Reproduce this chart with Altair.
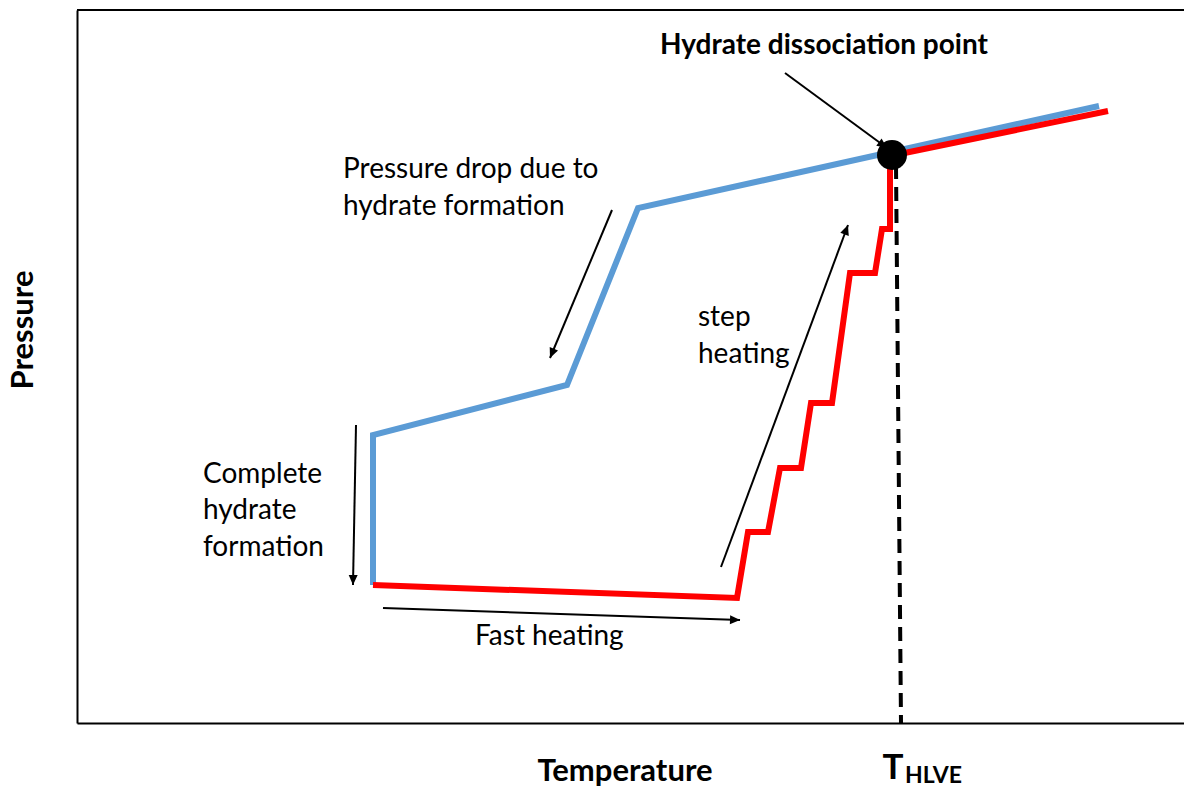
import math
import altair as alt
import pandas as pd

# plot area in its own units (1 unit = 1 px)
W, H = 1107, 713

# blue path (cooling / hydrate formation)
blue_t = [296, 296, 490, 561, 1022]
blue_p = [138, 288, 338, 515, 617]

# red path (fast heating then step heating)
red_t = [296, 660, 671, 691, 703, 724, 734, 755, 773, 798, 805, 813, 813, 1031]
red_p = [138, 125, 191, 191, 255, 255, 320, 320, 450, 450, 494, 494, 567, 612]

# dissociation point
diss_t = [815]
diss_p = [568]

# dashed T_HLVE line
thlve_t = [819, 824]
thlve_p = [558, 0]

# annotation arrows (tail -> head)
arrow_t0 = [708, 535, 644, 279, 306]
arrow_p0 = [650, 513, 156, 298, 115]
arrow_t1 = [810, 473, 771, 276, 663]
arrow_p1 = [575, 365, 498, 138, 103]

# annotation texts
note_text = ["Pressure drop due to", "hydrate formation", "step", "heating",
             "Complete", "hydrate", "formation", "Fast heating"]
note_t = [266, 266, 621, 621, 126, 126, 126, 398]
note_p = [553, 516, 405, 368, 248, 212, 175, 86]

title_text = ["Hydrate dissociation point"]
title_t = [583]
title_p = [677]

FONT = "Lato"

xs = alt.Scale(domain=[0, W], nice=False, zero=False)
ys = alt.Scale(domain=[0, H], nice=False, zero=False)


def path_df(ts, ps):
    return pd.DataFrame({"t": ts, "p": ps, "i": list(range(len(ts)))})


def path_layer(df, color, width, dash=None):
    kw = dict(color=color, strokeWidth=width, strokeCap="butt", strokeJoin="miter")
    if dash:
        kw["strokeDash"] = dash
    return alt.Chart(df).mark_line(**kw).encode(
        x=alt.X("t:Q", scale=xs, axis=alt.Axis(title=None, labels=False, ticks=False, grid=False,
                                               domainColor="#000", domainWidth=2)),
        y=alt.Y("p:Q", scale=ys, axis=alt.Axis(title=None, labels=False, ticks=False, grid=False,
                                               domainColor="#000", domainWidth=2)),
        order="i:Q",
    )


blue = path_layer(path_df(blue_t, blue_p), "#5B9BD5", 6)
red = path_layer(path_df(red_t, red_p), "#FF0000", 6)
dashed = path_layer(path_df(thlve_t, thlve_p), "#000000", 4, dash=[14, 8])

dot = alt.Chart(pd.DataFrame({"t": diss_t, "p": diss_p})).mark_point(
    shape="circle", filled=True, color="#000", size=900, opacity=1
).encode(x=alt.X("t:Q", scale=xs), y=alt.Y("p:Q", scale=ys))

arr = pd.DataFrame({"t0": arrow_t0, "p0": arrow_p0, "t1": arrow_t1, "p1": arrow_p1})
arr["ang"] = [
    (math.degrees(math.atan2(t1 - t0, p1 - p0)) + 360) % 360
    for t0, p0, t1, p1 in zip(arrow_t0, arrow_p0, arrow_t1, arrow_p1)
]

shafts = alt.Chart(arr).mark_rule(color="#000", strokeWidth=2).encode(
    x=alt.X("t0:Q", scale=xs), y=alt.Y("p0:Q", scale=ys),
    x2="t1:Q", y2="p1:Q",
)
heads = alt.Chart(arr).mark_point(
    shape="M0,0L-0.9,2L0.9,2Z", filled=True, color="#000", size=100, opacity=1
).encode(
    x=alt.X("t1:Q", scale=xs), y=alt.Y("p1:Q", scale=ys),
    angle=alt.Angle("ang:Q", scale=None),
)

top_rule = alt.Chart(pd.DataFrame({"a": [0]})).mark_rule(color="#000", strokeWidth=2).encode(
    x=alt.datum(0, scale=xs), x2=alt.datum(W), y=alt.datum(H, scale=ys)
)

notes = alt.Chart(pd.DataFrame({"txt": note_text, "t": note_t, "p": note_p})).mark_text(
    align="left", baseline="middle", font=FONT, fontSize=28, color="#000"
).encode(x=alt.X("t:Q", scale=xs), y=alt.Y("p:Q", scale=ys), text="txt:N")

title = alt.Chart(pd.DataFrame({"txt": title_text, "t": title_t, "p": title_p})).mark_text(
    align="left", baseline="middle", font=FONT, fontSize=28, fontWeight="bold", color="#000"
).encode(x=alt.X("t:Q", scale=xs), y=alt.Y("p:Q", scale=ys), text="txt:N")

# axis titles drawn as text (outside the plot area)
ax_text = ["Pressure", "Temperature"]
ax_t = [-53, 548]
ax_p = [393, -49]
ax_ang = [270, 0]
axis_titles = alt.Chart(pd.DataFrame({"txt": ax_text, "t": ax_t, "p": ax_p, "ang": ax_ang})).mark_text(
    align="center", baseline="middle", font=FONT, fontSize=31, fontWeight="bold", color="#000"
).encode(x=alt.X("t:Q", scale=xs), y=alt.Y("p:Q", scale=ys), text="txt:N",
         angle=alt.Angle("ang:Q", scale=None))

t_big = alt.Chart(pd.DataFrame({"txt": ["T"], "t": [816], "p": [-45]})).mark_text(
    align="center", baseline="middle", font=FONT, fontSize=35, fontWeight="bold", color="#000"
).encode(x=alt.X("t:Q", scale=xs), y=alt.Y("p:Q", scale=ys), text="txt:N")
t_sub = alt.Chart(pd.DataFrame({"txt": ["HLVE"], "t": [828], "p": [-53]})).mark_text(
    align="left", baseline="middle", font=FONT, fontSize=23, fontWeight="bold", color="#000"
).encode(x=alt.X("t:Q", scale=xs), y=alt.Y("p:Q", scale=ys), text="txt:N")

chart = alt.layer(
    top_rule, dashed, blue, red, dot, shafts, heads, notes, title, axis_titles, t_big, t_sub
).properties(
    width=W, height=H,
    autosize=alt.AutoSizeParams(type="none"),
    padding={"left": 69, "top": 2, "right": 0, "bottom": 66},
).configure_view(stroke=None).configure(background="white")

chart.save("out.html", embed_options={"renderer": "svg", "actions": False})
